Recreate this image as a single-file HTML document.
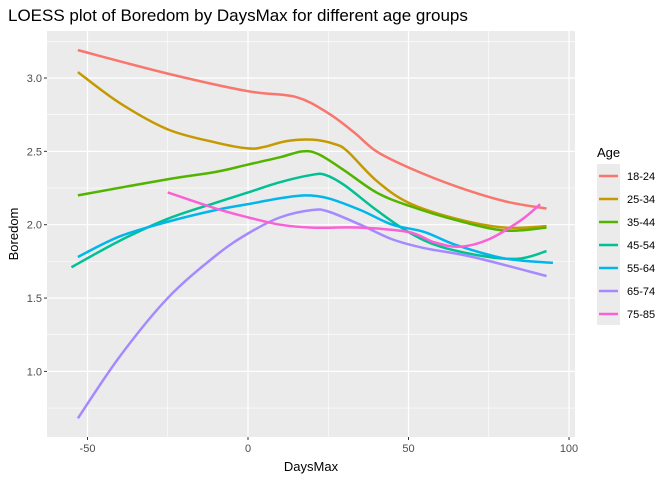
<!DOCTYPE html>
<html><head><meta charset="utf-8"><style>
body{margin:0;background:#fff;font-family:"Liberation Sans",sans-serif}
</style></head><body>
<svg width="672" height="480" xmlns="http://www.w3.org/2000/svg" font-family="Liberation Sans, sans-serif">
<text x="8" y="21" font-size="17" fill="#000">LOESS plot of Boredom by DaysMax for different age groups</text>
<rect x="47" y="31" width="528" height="406" fill="#ebebeb"/>
<g id="grid"></g>
<g id="series"></g>
<g id="axes"></g>
<text x="311" y="471" font-size="13" text-anchor="middle">DaysMax</text>
<text transform="translate(18,234) rotate(-90)" font-size="13" text-anchor="middle">Boredom</text>
<text x="597" y="157" font-size="13">Age</text>
<rect x="597" y="164" width="23" height="161" fill="#ebebeb"/>
<g id="legend"></g>
</svg>
<script>
const NS="http://www.w3.org/2000/svg";
const xTicks=[-50,0,50,100];
const yTicks=[1.0,1.5,2.0,2.5,3.0];
const groups=["18-24","25-34","35-44","45-54","55-64","65-74","75-85"];
const colors=["#F8766D","#C49A00","#53B400","#00C094","#00B6EB","#A58AFF","#FB61D7"];
const s1824=[[-53,3.19],[-25,3.03],[0,2.91],[15,2.87],[25,2.76],[33,2.63],[40,2.5],[50,2.39],[65,2.26],[80,2.16],[93,2.11]];
const s2534=[[-53,3.04],[-40,2.83],[-25,2.65],[-10,2.56],[0,2.52],[5,2.53],[12,2.57],[20,2.58],[27,2.55],[31,2.5],[40,2.3],[50,2.15],[65,2.04],[80,1.98],[93,1.99]];
const s3544=[[-53,2.2],[-25,2.31],[-10,2.36],[0,2.41],[10,2.46],[17,2.5],[22,2.48],[30,2.37],[40,2.22],[50,2.13],[65,2.03],[80,1.96],[93,1.98]];
const s4554=[[-55,1.71],[-40,1.89],[-25,2.04],[-10,2.15],[0,2.22],[10,2.29],[20,2.34],[24,2.34],[30,2.27],[40,2.1],[50,1.95],[60,1.85],[75,1.78],[85,1.77],[93,1.82]];
const s5564=[[-53,1.78],[-40,1.92],[-25,2.02],[-10,2.1],[0,2.14],[10,2.18],[18,2.2],[25,2.18],[35,2.1],[45,2.0],[55,1.95],[65,1.86],[80,1.77],[95,1.74]];
const s6574=[[-53,0.68],[-40,1.1],[-25,1.5],[-10,1.79],[0,1.94],[10,2.05],[20,2.1],[25,2.09],[35,2.0],[45,1.9],[55,1.84],[70,1.78],[93,1.65]];
const s7585=[[-25,2.22],[-10,2.11],[0,2.05],[10,2.0],[20,1.98],[35,1.98],[50,1.95],[58,1.88],[66,1.85],[75,1.9],[85,2.03],[91,2.14]];
const allSeries=[s1824,s2534,s3544,s4554,s5564,s6574,s7585];
const X=v=>248+3.21*v, Y=v=>224.7-(v-2)*146.7;
function mk(t,a,p){const e=document.createElementNS(NS,t);for(const k in a)e.setAttribute(k,a[k]);(p||document.querySelector('svg')).appendChild(e);return e;}
const grid=document.getElementById('grid'),axes=document.getElementById('axes'),ser=document.getElementById('series'),leg=document.getElementById('legend');
for(let i=0;i<xTicks.length-1;i++){const v=(xTicks[i]+xTicks[i+1])/2;const l=mk('line',{x1:X(v),x2:X(v),y1:31,y2:437,stroke:'#fff','stroke-width':0.6},grid);}
for(let v=0.75;v<=3.3;v+=0.5){const l=mk('line',{x1:47,x2:575,y1:Y(v),y2:Y(v),stroke:'#fff','stroke-width':0.6},grid);}
xTicks.forEach(v=>{const l=mk('line',{x1:X(v),x2:X(v),y1:31,y2:437,stroke:'#fff','stroke-width':1.2},grid);
const t=mk('line',{x1:X(v),x2:X(v),y1:437,y2:440,stroke:'#333'},axes);
const tx=mk('text',{x:X(v),y:452,'font-size':11,fill:'#4d4d4d','text-anchor':'middle'},axes);tx.textContent=v;});
yTicks.forEach(v=>{const l=mk('line',{x1:47,x2:575,y1:Y(v),y2:Y(v),stroke:'#fff','stroke-width':1.2},grid);
const t=mk('line',{x1:44,x2:47,y1:Y(v),y2:Y(v),stroke:'#333'},axes);
const tx=mk('text',{x:42,y:Y(v)+4,'font-size':11,fill:'#4d4d4d','text-anchor':'end'},axes);tx.textContent=v.toFixed(1);});
function path(pts){const p=pts.map(d=>[X(d[0]),Y(d[1])]);let s='M'+p[0][0]+','+p[0][1];
for(let i=0;i<p.length-1;i++){const p0=p[Math.max(i-1,0)],p1=p[i],p2=p[i+1],p3=p[Math.min(i+2,p.length-1)];
s+=' C'+(p1[0]+(p2[0]-p0[0])/6)+','+(p1[1]+(p2[1]-p0[1])/6)+' '+(p2[0]-(p3[0]-p1[0])/6)+','+(p2[1]-(p3[1]-p1[1])/6)+' '+p2[0]+','+p2[1];}return s;}
allSeries.forEach((s,i)=>{const e=mk('path',{d:path(s),fill:'none',stroke:colors[i],'stroke-width':2.5},ser);


const y=176+i*23;
const k=mk('line',{x1:599,x2:618,y1:y,y2:y,stroke:colors[i],'stroke-width':2.5},leg);


const t=mk('text',{x:627,y:y+4,'font-size':11,fill:'#000'},leg);t.textContent=groups[i];

});
</script>
</body></html>
